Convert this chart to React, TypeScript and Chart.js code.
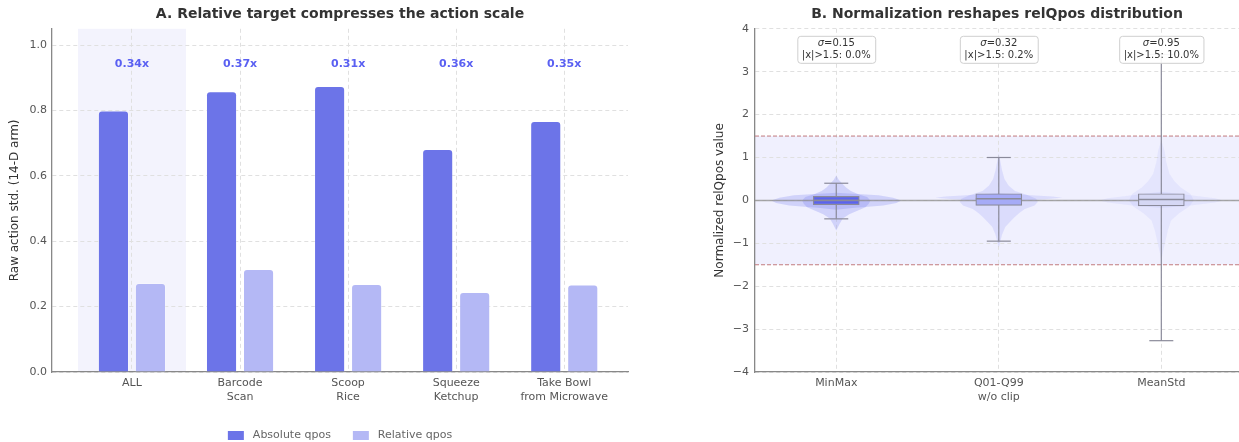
import React, { useEffect, useRef } from 'react';
import { Chart, registerables } from 'chart.js';

Chart.register(...registerables);

// ---------- Panel A data ----------
const taskLabels: string[][] = [['ALL'], ['Barcode', 'Scan'], ['Scoop', 'Rice'], ['Squeeze', 'Ketchup'], ['Take Bowl', 'from Microwave']];
const absoluteStd = [0.80, 0.859, 0.875, 0.682, 0.768];
const relativeStd = [0.272, 0.315, 0.269, 0.245, 0.268];
const ratioLabels = ['0.34x', '0.37x', '0.31x', '0.36x', '0.35x'];
const leftYTicks = [0, 0.2, 0.4, 0.6, 0.8, 1.0];

// ---------- Panel B data ----------
const normLabels: string[][] = [['MinMax'], ['Q01-Q99', 'w/o clip'], ['MeanStd']];
const rightYTicks = [-4, -3, -2, -1, 0, 1, 2, 3, 4];
const sigmaValues = [0.15, 0.32, 0.95];
const outsidePct = [0.0, 0.2, 10.0];
const boxQ1 = [-0.10, -0.116, -0.13];
const boxMedian = [0.0, 0.04, 0.02];
const boxQ3 = [0.093, 0.155, 0.155];
const whiskerLow = [-0.43, -0.95, -3.27];
const whiskerHigh = [0.40, 1.0, 3.4];
// violin profiles: [value, half-width in category units]
const minmaxViolinWide = [[0.18, 0], [0.12, 0.26], [0.06, 0.35], [0.0, 0.4], [-0.06, 0.37], [-0.12, 0.29], [-0.18, 0.1], [-0.22, 0]];
const minmaxViolinCore = [[0.58, 0], [0.48, 0.015], [0.4, 0.035], [0.3, 0.06], [0.22, 0.09], [0.14, 0.14], [0.08, 0.19], [0, 0.21], [-0.08, 0.2], [-0.16, 0.18], [-0.24, 0.13], [-0.32, 0.08], [-0.42, 0.04], [-0.55, 0.02], [-0.7, 0]];
const q01ViolinWide = [[0.17, 0], [0.12, 0.2], [0.09, 0.33], [0.06, 0.39], [0.03, 0.3], [0.0, 0.16], [-0.03, 0]];
const q01ViolinCore = [[1.1, 0], [0.9, 0.01], [0.7, 0.02], [0.5, 0.035], [0.35, 0.06], [0.22, 0.1], [0.12, 0.18], [0.04, 0.23], [-0.04, 0.24], [-0.12, 0.22], [-0.2, 0.16], [-0.28, 0.13], [-0.38, 0.1], [-0.5, 0.07], [-0.62, 0.04], [-0.8, 0.02], [-1.1, 0]];
const meanstdViolinWide = [[0.2, 0], [0.12, 0.18], [0.05, 0.33], [0, 0.38], [-0.05, 0.33], [-0.12, 0.18], [-0.18, 0]];
const meanstdViolinCore = [[1.4, 0], [1.15, 0.02], [0.9, 0.03], [0.62, 0.05], [0.45, 0.08], [0.3, 0.12], [0.15, 0.18], [0, 0.2], [-0.15, 0.17], [-0.3, 0.11], [-0.47, 0.06], [-0.7, 0.04], [-0.95, 0.025], [-1.2, 0.01], [-1.4, 0]];
const violinProfiles = [
  [minmaxViolinWide, minmaxViolinCore],
  [q01ViolinWide, q01ViolinCore],
  [meanstdViolinWide, meanstdViolinCore],
];
const violinColors = ['rgba(110,118,240,0.24)', 'rgba(110,118,240,0.16)', 'rgba(110,118,240,0.09)'];
const boxColors = ['#5b63ee', '#a6abf7', '#d5d7f4'];

const FONT = "'DejaVu Sans', sans-serif";
const TICK_COLOR = '#555';
const GRID_COLOR = '#e0e0e0';
const SPINE_COLOR = '#888';

Chart.defaults.font.family = FONT;

const leftBandPlugin = {
  id: 'leftBand',
  beforeDraw(chart: any) {
    const { ctx, chartArea, scales } = chart;
    const x0 = scales.x.getPixelForValue(-0.5);
    const x1 = scales.x.getPixelForValue(0.5);
    ctx.save();
    ctx.fillStyle = '#f3f3fd';
    ctx.fillRect(x0, chartArea.top, x1 - x0, chartArea.bottom - chartArea.top);
    ctx.restore();
  },
  afterDatasetsDraw(chart: any) {
    const { ctx, scales } = chart;
    ctx.save();
    ctx.font = `bold 11px ${FONT}`;
    ctx.fillStyle = '#5a60f2';
    ctx.textAlign = 'center';
    ctx.textBaseline = 'middle';
    ratioLabels.forEach((t, i) => {
      ctx.fillText(t, scales.x.getPixelForValue(i), scales.y.getPixelForValue(0.942));
    });
    ctx.restore();
  },
  afterDraw(chart: any) {
    const { ctx, chartArea } = chart;
    const ds = chart.data.datasets;
    ctx.save();
    ctx.font = `11px ${FONT}`;
    const boxW = 16, boxH = 9, gapText = 9, gapItem = 22;
    const widths = ds.map((d: any) => ctx.measureText(d.label).width);
    const total = ds.reduce((s: number, _: any, i: number) => s + boxW + gapText + widths[i], 0) + gapItem * (ds.length - 1);
    let x = (chartArea.left + chartArea.right) / 2 - total / 2;
    const y = 435.5;
    ds.forEach((d: any, i: number) => {
      ctx.fillStyle = d.backgroundColor;
      ctx.fillRect(x, y - boxH / 2, boxW, boxH);
      x += boxW + gapText;
      ctx.fillStyle = '#666';
      ctx.textAlign = 'left';
      ctx.textBaseline = 'middle';
      ctx.fillText(d.label, x, y);
      x += widths[i] + gapItem;
    });
    ctx.restore();
  },
};

const rightPlugin = {
  id: 'rightDecor',
  beforeDraw(chart: any) {
    const { ctx, chartArea, scales } = chart;
    const y0 = scales.y.getPixelForValue(1.5);
    const y1 = scales.y.getPixelForValue(-1.5);
    ctx.save();
    ctx.fillStyle = '#f0f0fe';
    ctx.fillRect(chartArea.left, y0, chartArea.right - chartArea.left, y1 - y0);
    ctx.restore();
  },
  beforeDatasetsDraw(chart: any) {
    const { ctx, chartArea, scales } = chart;
    const xs = scales.x, ys = scales.y;
    ctx.save();
    // threshold lines
    ctx.strokeStyle = '#c27b7e';
    ctx.lineWidth = 1;
    ctx.setLineDash([4, 2]);
    [1.5, -1.5].forEach((v) => {
      const y = ys.getPixelForValue(v);
      ctx.beginPath();
      ctx.moveTo(chartArea.left, y);
      ctx.lineTo(chartArea.right, y);
      ctx.stroke();
    });
    ctx.setLineDash([]);
    // violins
    violinProfiles.forEach((profiles, i) => {
      ctx.fillStyle = violinColors[i];
      profiles.forEach((prof) => {
        ctx.beginPath();
        prof.forEach(([v, w], k) => {
          const px = xs.getPixelForValue(i + w);
          const py = ys.getPixelForValue(v);
          if (k === 0) ctx.moveTo(px, py); else ctx.lineTo(px, py);
        });
        for (let k = prof.length - 1; k >= 0; k--) {
          const [v, w] = prof[k];
          ctx.lineTo(xs.getPixelForValue(i - w), ys.getPixelForValue(v));
        }
        ctx.closePath();
        ctx.fill();
      });
    });
    // zero line
    const yz = ys.getPixelForValue(0);
    ctx.strokeStyle = 'rgba(140,140,140,0.75)';
    ctx.lineWidth = 1.5;
    ctx.beginPath();
    ctx.moveTo(chartArea.left, yz);
    ctx.lineTo(chartArea.right, yz);
    ctx.stroke();
    // whiskers
    ctx.strokeStyle = '#8a8a9a';
    ctx.lineWidth = 1.2;
    whiskerLow.forEach((lo, i) => {
      const x = xs.getPixelForValue(i);
      ctx.beginPath();
      ctx.moveTo(x, ys.getPixelForValue(lo));
      ctx.lineTo(x, ys.getPixelForValue(whiskerHigh[i]));
      ctx.stroke();
    });
    ctx.restore();
  },
  afterDatasetsDraw(chart: any) {
    const { ctx, scales } = chart;
    const xs = scales.x, ys = scales.y;
    ctx.save();
    ctx.strokeStyle = '#8a8a9a';
    ctx.lineWidth = 1.2;
    const capHalf = 12;
    whiskerLow.forEach((lo, i) => {
      const x = xs.getPixelForValue(i);
      [lo, whiskerHigh[i]].forEach((v) => {
        const y = ys.getPixelForValue(v);
        ctx.beginPath();
        ctx.moveTo(x - capHalf, y);
        ctx.lineTo(x + capHalf, y);
        ctx.stroke();
      });
    });
    ctx.lineWidth = 1.6;
    const meta = chart.getDatasetMeta(0);
    boxMedian.forEach((m, i) => {
      const bar = meta.data[i];
      const half = bar.width / 2;
      const y = ys.getPixelForValue(m);
      ctx.beginPath();
      ctx.moveTo(bar.x - half, y);
      ctx.lineTo(bar.x + half, y);
      ctx.stroke();
    });
    ctx.restore();
  },
  afterDraw(chart: any) {
    const { ctx, chartArea, scales } = chart;
    const xs = scales.x;
    ctx.save();
    const fs = 10;
    sigmaValues.forEach((s, i) => {
      const cx = xs.getPixelForValue(i);
      const l1a = 'σ';
      const l1b = `=${s.toFixed(2)}`;
      const l2 = `|x|>1.5: ${outsidePct[i].toFixed(1)}%`;
      ctx.font = `italic ${fs}px ${FONT}`;
      const wa = ctx.measureText(l1a).width;
      ctx.font = `${fs}px ${FONT}`;
      const wb = ctx.measureText(l1b).width;
      const w2 = ctx.measureText(l2).width;
      const bw = Math.max(wa + wb, w2) + 9;
      const top = chartArea.top + 7;
      const bh = 27;
      const bx = cx - bw / 2;
      ctx.fillStyle = 'rgba(255,255,255,0.92)';
      ctx.strokeStyle = '#cfcfcf';
      ctx.lineWidth = 1;
      ctx.beginPath();
      (ctx as any).roundRect(bx + 0.5, top + 0.5, bw, bh, 3);
      ctx.fill();
      ctx.stroke();
      ctx.fillStyle = '#333';
      ctx.textBaseline = 'middle';
      ctx.textAlign = 'left';
      const startX = cx - (wa + wb) / 2;
      ctx.font = `italic ${fs}px ${FONT}`;
      ctx.fillText(l1a, startX, top + 7.5);
      ctx.font = `${fs}px ${FONT}`;
      ctx.fillText(l1b, startX + wa, top + 7.5);
      ctx.textAlign = 'center';
      ctx.fillText(l2, cx, top + 20);
    });
    ctx.restore();
  },
};

function useChart(ref: React.RefObject<HTMLCanvasElement>, makeConfig: () => any) {
  useEffect(() => {
    if (!ref.current) return;
    const chart = new Chart(ref.current, makeConfig());
    return () => chart.destroy();
  }, []);
}

const tickFont = { family: FONT, size: 11 };

function leftConfig() {
  const barStyle = {
    borderColor: 'rgba(255,255,255,0.3)',
    borderWidth: 1,
    borderRadius: 4,
    borderSkipped: 'start',
    categoryPercentage: 0.685,
    barPercentage: 0.84,
  };
  return {
    type: 'bar',
    data: {
      datasets: [
        { label: 'Absolute qpos', data: absoluteStd.map((v, i) => ({ x: i, y: v })), backgroundColor: '#6c74e8', ...barStyle },
        { label: 'Relative qpos', data: relativeStd.map((v, i) => ({ x: i, y: v })), backgroundColor: '#b4b8f5', ...barStyle },
      ],
    },
    options: {
      animation: false,
      responsive: false,
      devicePixelRatio: 1,
      layout: { padding: { left: 0, right: 12, top: 0, bottom: 0 } },
      plugins: {
        legend: { display: false },
        tooltip: { enabled: false },
        title: {
          display: true,
          fullSize: false,
          text: 'A. Relative target compresses the action scale',
          color: '#333',
          font: { family: FONT, size: 14, weight: 'bold' },
          padding: { top: 6, bottom: 6 },
        },
      },
      scales: {
        x: {
          type: 'linear',
          offset: false,
          min: -0.74,
          max: 4.59,
          afterBuildTicks: (s: any) => { s.ticks = taskLabels.map((_, i) => ({ value: i })); },
          afterFit: (s: any) => { s.height = 70; },
          ticks: { callback: (v: number) => taskLabels[v], padding: 5, color: TICK_COLOR, font: tickFont, maxRotation: 0, autoSkip: false },
          grid: { color: GRID_COLOR, lineWidth: 1, drawTicks: false, offset: false },
          border: { color: SPINE_COLOR, width: 1.3, dash: [4, 3] },
        },
        y: {
          type: 'linear',
          min: 0,
          max: 1.05,
          afterBuildTicks: (s: any) => { s.ticks = leftYTicks.map((v) => ({ value: v })); },
          afterFit: (s: any) => { s.width = 52; },
          ticks: { callback: (v: number) => v.toFixed(1), padding: 5, color: TICK_COLOR, font: tickFont },
          grid: { color: GRID_COLOR, lineWidth: 1, drawTicks: false },
          border: { color: SPINE_COLOR, width: 1.3, dash: [4, 3] },
          title: { display: true, text: 'Raw action std. (14-D arm)', color: '#333', font: { family: FONT, size: 12 }, padding: { top: 8, bottom: 0 } },
        },
      },
    },
    plugins: [leftBandPlugin],
  };
}

function rightConfig() {
  return {
    type: 'bar',
    data: {
      datasets: [
        {
          label: 'IQR',
          data: boxQ1.map((v, i) => ({ x: i, y: [v, boxQ3[i]] })),
          backgroundColor: boxColors,
          borderColor: '#8a8a9a',
          borderWidth: 1.2,
          borderSkipped: false,
          borderRadius: 0,
          barThickness: 46,
          grouped: false,
        },
      ],
    },
    options: {
      animation: false,
      responsive: false,
      devicePixelRatio: 1,
      layout: { padding: { left: 0, right: 0, top: 0, bottom: 0 } },
      plugins: {
        legend: { display: false },
        tooltip: { enabled: false },
        title: {
          display: true,
          fullSize: false,
          text: 'B. Normalization reshapes relQpos distribution',
          color: '#333',
          font: { family: FONT, size: 14, weight: 'bold' },
          padding: { top: 6, bottom: 6 },
        },
      },
      scales: {
        x: {
          type: 'linear',
          offset: false,
          min: -0.5,
          max: 2.478,
          afterBuildTicks: (s: any) => { s.ticks = normLabels.map((_, i) => ({ value: i })); },
          afterFit: (s: any) => { s.height = 70; },
          ticks: { callback: (v: number) => normLabels[v], padding: 5, color: TICK_COLOR, font: tickFont, maxRotation: 0, autoSkip: false },
          grid: { color: GRID_COLOR, lineWidth: 1, drawTicks: false, offset: false },
          border: { color: SPINE_COLOR, width: 1.3, dash: [4, 3] },
        },
        y: {
          type: 'linear',
          min: -4,
          max: 4,
          afterBuildTicks: (s: any) => { s.ticks = rightYTicks.map((v) => ({ value: v })); },
          afterFit: (s: any) => { s.width = 65; },
          ticks: { callback: (v: number) => (v < 0 ? '\u2212' + Math.abs(v) : String(v)), padding: 6, color: TICK_COLOR, font: tickFont },
          grid: { color: GRID_COLOR, lineWidth: 1, drawTicks: false },
          border: { color: SPINE_COLOR, width: 1.3, dash: [4, 3] },
          title: { display: true, text: 'Normalized relQpos value', color: '#333', font: { family: FONT, size: 12 }, padding: { top: 23, bottom: 0 } },
        },
      },
    },
    plugins: [rightPlugin],
  };
}

export default function App() {
  const leftRef = useRef<HTMLCanvasElement>(null);
  const rightRef = useRef<HTMLCanvasElement>(null);
  useChart(leftRef, leftConfig);
  useChart(rightRef, rightConfig);
  return (
    <div style={{ position: 'fixed', left: 0, top: 0, width: 1239, height: 442, background: '#fff', overflow: 'hidden' }}>
      <canvas ref={leftRef} width={640} height={442} style={{ position: 'absolute', left: 0, top: 0, width: 640, height: 442 }} />
      <canvas ref={rightRef} width={549} height={442} style={{ position: 'absolute', left: 690, top: 0, width: 549, height: 442 }} />
    </div>
  );
}
